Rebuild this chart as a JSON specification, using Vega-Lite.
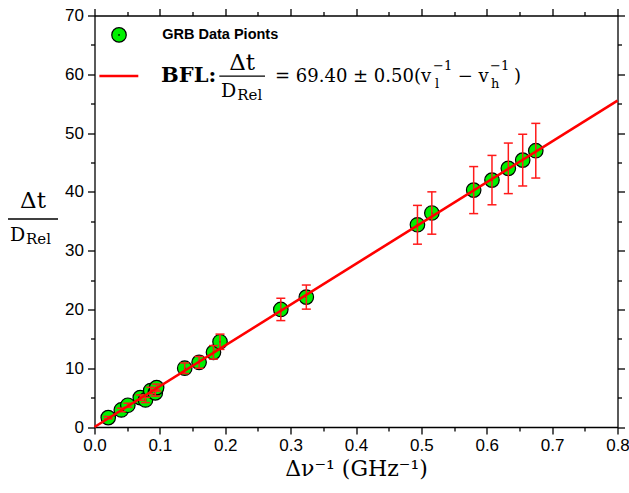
{
  "$schema": "https://vega.github.io/schema/vega-lite/v6.json",
  "autosize": {"type": "none"},
  "padding": {"left": 94.5, "top": 15.5, "right": 11.5, "bottom": 66},
  "width": 523,
  "height": 411.5,
  "background": "white",
  "config": {
    "view": {"stroke": null},
    "axis": {"grid": false, "labelFlush": false, "labelOverlap": false, "domainColor": "black", "domainWidth": 1.3, "tickColor": "black", "tickWidth": 1.3, "labelColor": "black", "labelFont": "Liberation Sans", "labelFontSize": 17}
  },
  "datasets": {
    "pts": [
      {"x": 0.021, "y": 1.6, "lo": 1.4, "hi": 1.8},
      {"x": 0.041, "y": 2.9, "lo": 2.6, "hi": 3.2},
      {"x": 0.051, "y": 3.7, "lo": 3.35, "hi": 4.05},
      {"x": 0.070, "y": 5.0, "lo": 4.55, "hi": 5.45},
      {"x": 0.078, "y": 4.6, "lo": 4.15, "hi": 5.05},
      {"x": 0.086, "y": 6.2, "lo": 5.65, "hi": 6.75},
      {"x": 0.093, "y": 5.8, "lo": 5.25, "hi": 6.35},
      {"x": 0.095, "y": 6.7, "lo": 6.1, "hi": 7.3},
      {"x": 0.138, "y": 10.0, "lo": 9.1, "hi": 10.9},
      {"x": 0.160, "y": 11.0, "lo": 10.0, "hi": 12.0},
      {"x": 0.182, "y": 12.7, "lo": 11.55, "hi": 13.85},
      {"x": 0.192, "y": 14.5, "lo": 13.2, "hi": 15.8},
      {"x": 0.285, "y": 20.0, "lo": 18.1, "hi": 21.9},
      {"x": 0.324, "y": 22.1, "lo": 20.05, "hi": 24.15},
      {"x": 0.494, "y": 34.4, "lo": 31.1, "hi": 37.7},
      {"x": 0.516, "y": 36.4, "lo": 32.8, "hi": 40.0},
      {"x": 0.580, "y": 40.3, "lo": 36.3, "hi": 44.3},
      {"x": 0.608, "y": 42.0, "lo": 37.8, "hi": 46.2},
      {"x": 0.633, "y": 44.0, "lo": 39.7, "hi": 48.3},
      {"x": 0.655, "y": 45.4, "lo": 41.0, "hi": 49.8},
      {"x": 0.675, "y": 47.0, "lo": 42.35, "hi": 51.65}
    ],
    "fit": [{"x": 0, "y": 0}, {"x": 0.8, "y": 55.52}]
  },
  "layer": [
    {
      "data": {"name": "pts"},
      "mark": {"type": "circle", "size": 210, "color": "#00f000", "opacity": 1, "stroke": "black", "strokeWidth": 1.2},
      "encoding": {
        "x": {"field": "x", "type": "quantitative", "scale": {"domain": [0, 0.8], "nice": false},
          "axis": {"orient": "bottom", "values": [0,0.05,0.1,0.15,0.2,0.25,0.3,0.35,0.4,0.45,0.5,0.55,0.6,0.65,0.7,0.75,0.8],
            "labelExpr": "abs(datum.value*10 - round(datum.value*10)) < 0.001 ? format(datum.value, '.1f') : ''",
            "tickSize": {"condition": {"test": "abs(datum.value*10 - round(datum.value*10)) < 0.001", "value": 7}, "value": 4},
            "labelPadding": 3,
            "title": "Δν⁻¹   (GHz⁻¹)", "titleFont": "DejaVu Serif", "titleFontSize": 22, "titleFontWeight": "normal", "titleColor": "black", "titlePadding": 5}},
        "y": {"field": "y", "type": "quantitative", "scale": {"domain": [0, 70], "nice": false},
          "axis": {"orient": "left", "values": [0,5,10,15,20,25,30,35,40,45,50,55,60,65,70],
            "labelExpr": "datum.value % 10 === 0 ? datum.label : ''",
            "tickSize": {"condition": {"test": "datum.value % 10 === 0", "value": 7}, "value": 4},
            "labelPadding": 4, "title": null}}
      }
    },
    {
      "data": {"name": "pts"},
      "mark": {"type": "circle", "size": 3, "color": "black", "opacity": 1},
      "encoding": {
        "x": {"field": "x", "type": "quantitative", "axis": null},
        "y": {"field": "y", "type": "quantitative", "axis": null}
      }
    },
    {
      "data": {"name": "pts"},
      "mark": {"type": "errorbar", "ticks": {"color": "#ff1a1a", "opacity": 1}, "rule": {"color": "#ff1a1a", "opacity": 1}, "color": "#ff1a1a", "opacity": 1, "thickness": 1.5, "size": 9},
      "encoding": {
        "x": {"field": "x", "type": "quantitative", "axis": null},
        "y": {"field": "lo", "type": "quantitative", "axis": null},
        "y2": {"field": "hi"}
      }
    },
    {
      "data": {"name": "fit"},
      "mark": {"type": "line", "color": "#ff0000", "strokeWidth": 2.6},
      "encoding": {
        "x": {"field": "x", "type": "quantitative",
          "axis": {"orient": "top", "labels": false, "title": null, "values": [0,0.05,0.1,0.15,0.2,0.25,0.3,0.35,0.4,0.45,0.5,0.55,0.6,0.65,0.7,0.75,0.8],
            "tickSize": {"condition": {"test": "abs(datum.value*10 - round(datum.value*10)) < 0.001", "value": 7}, "value": 4}}},
        "y": {"field": "y", "type": "quantitative",
          "axis": {"orient": "right", "labels": false, "title": null, "values": [0,5,10,15,20,25,30,35,40,45,50,55,60,65,70],
            "tickSize": {"condition": {"test": "datum.value % 10 === 0", "value": 7}, "value": 4}}}
      }
    },
    {
      "data": {"values": [{}]},
      "mark": {"type": "circle", "size": 210, "color": "#00f000", "opacity": 1, "stroke": "black", "strokeWidth": 1.2},
      "encoding": {"x": {"datum": 0.0375, "type": "quantitative", "axis": null}, "y": {"datum": 66.7, "type": "quantitative", "axis": null}}
    },
    {
      "data": {"values": [{}]},
      "mark": {"type": "circle", "size": 3, "color": "black", "opacity": 1},
      "encoding": {"x": {"datum": 0.0375, "type": "quantitative", "axis": null}, "y": {"datum": 66.7, "type": "quantitative", "axis": null}}
    },
    {
      "data": {"values": [{}]},
      "mark": {"type": "text", "text": "GRB Data Pionts", "align": "left", "baseline": "middle", "font": "Liberation Sans", "fontWeight": "bold", "fontSize": 14.5, "color": "black"},
      "encoding": {"x": {"datum": 0.1036, "type": "quantitative", "axis": null}, "y": {"datum": 66.7, "type": "quantitative", "axis": null}}
    },
    {
      "data": {"values": [{}]},
      "mark": {"type": "rule", "color": "#ff0000", "strokeWidth": 2.6},
      "encoding": {"x": {"datum": 0.0075, "type": "quantitative", "axis": null}, "x2": {"datum": 0.067}, "y": {"datum": 59.7, "type": "quantitative", "axis": null}}
    },
    {
      "data": {"values": [{}]},
      "mark": {"type": "text", "text": "BFL:", "align": "left", "baseline": "alphabetic", "font": "DejaVu Serif", "fontWeight": "bold", "fontSize": 21, "color": "black"},
      "encoding": {"x": {"datum": 0.1017, "type": "quantitative", "axis": null}, "y": {"datum": 58.73, "type": "quantitative", "axis": null}}
    },
    {
      "data": {"values": [{}]},
      "mark": {"type": "text", "text": "Δt", "align": "center", "baseline": "alphabetic", "font": "DejaVu Serif", "fontSize": 23, "color": "black"},
      "encoding": {"x": {"datum": 0.2258, "type": "quantitative", "axis": null}, "y": {"datum": 60.72, "type": "quantitative", "axis": null}}
    },
    {
      "data": {"values": [{}]},
      "mark": {"type": "rule", "color": "black", "strokeWidth": 1.3},
      "encoding": {"x": {"datum": 0.1909, "type": "quantitative", "axis": null}, "x2": {"datum": 0.2608}, "y": {"datum": 59.7, "type": "quantitative", "axis": null}}
    },
    {
      "data": {"values": [{}]},
      "mark": {"type": "text", "text": "D", "align": "left", "baseline": "alphabetic", "font": "DejaVu Serif", "fontSize": 19, "color": "black"},
      "encoding": {"x": {"datum": 0.1935, "type": "quantitative", "axis": null}, "y": {"datum": 56.06, "type": "quantitative", "axis": null}}
    },
    {
      "data": {"values": [{}]},
      "mark": {"type": "text", "text": "Rel", "align": "left", "baseline": "alphabetic", "font": "DejaVu Serif", "fontSize": 15, "color": "black"},
      "encoding": {"x": {"datum": 0.2184, "type": "quantitative", "axis": null}, "y": {"datum": 55.59, "type": "quantitative", "axis": null}}
    },
    {
      "data": {"values": [{}]},
      "mark": {"type": "text", "text": "= 69.40 ± 0.50(v", "align": "left", "baseline": "alphabetic", "font": "DejaVu Serif", "fontSize": 18, "color": "black"},
      "encoding": {"x": {"datum": 0.2761, "type": "quantitative", "axis": null}, "y": {"datum": 58.73, "type": "quantitative", "axis": null}}
    },
    {
      "data": {"values": [{}]},
      "mark": {"type": "text", "text": "−1", "align": "left", "baseline": "alphabetic", "font": "DejaVu Serif", "fontSize": 13, "color": "black"},
      "encoding": {"x": {"datum": 0.5178, "type": "quantitative", "axis": null}, "y": {"datum": 60.72, "type": "quantitative", "axis": null}}
    },
    {
      "data": {"values": [{}]},
      "mark": {"type": "text", "text": "l", "align": "left", "baseline": "alphabetic", "font": "DejaVu Serif", "fontSize": 13, "color": "black"},
      "encoding": {"x": {"datum": 0.5209, "type": "quantitative", "axis": null}, "y": {"datum": 57.66, "type": "quantitative", "axis": null}}
    },
    {
      "data": {"values": [{}]},
      "mark": {"type": "text", "text": "− v", "align": "left", "baseline": "alphabetic", "font": "DejaVu Serif", "fontSize": 18, "color": "black"},
      "encoding": {"x": {"datum": 0.5555, "type": "quantitative", "axis": null}, "y": {"datum": 58.73, "type": "quantitative", "axis": null}}
    },
    {
      "data": {"values": [{}]},
      "mark": {"type": "text", "text": "−1", "align": "left", "baseline": "alphabetic", "font": "DejaVu Serif", "fontSize": 13, "color": "black"},
      "encoding": {"x": {"datum": 0.605, "type": "quantitative", "axis": null}, "y": {"datum": 60.72, "type": "quantitative", "axis": null}}
    },
    {
      "data": {"values": [{}]},
      "mark": {"type": "text", "text": "h", "align": "left", "baseline": "alphabetic", "font": "DejaVu Serif", "fontSize": 13, "color": "black"},
      "encoding": {"x": {"datum": 0.6066, "type": "quantitative", "axis": null}, "y": {"datum": 57.66, "type": "quantitative", "axis": null}}
    },
    {
      "data": {"values": [{}]},
      "mark": {"type": "text", "text": ")", "align": "left", "baseline": "alphabetic", "font": "DejaVu Serif", "fontSize": 18, "color": "black"},
      "encoding": {"x": {"datum": 0.6416, "type": "quantitative", "axis": null}, "y": {"datum": 58.73, "type": "quantitative", "axis": null}}
    },
    {
      "data": {"values": [{}]},
      "mark": {"type": "text", "text": "Δt", "align": "center", "baseline": "alphabetic", "font": "DejaVu Serif", "fontSize": 23, "color": "black"},
      "encoding": {"x": {"datum": -0.0941, "type": "quantitative", "axis": null}, "y": {"datum": 37.2, "type": "quantitative", "axis": null}}
    },
    {
      "data": {"values": [{}]},
      "mark": {"type": "rule", "color": "black", "strokeWidth": 1.3},
      "encoding": {"x": {"datum": -0.1323, "type": "quantitative", "axis": null}, "x2": {"datum": -0.0558}, "y": {"datum": 35.38, "type": "quantitative", "axis": null}}
    },
    {
      "data": {"values": [{}]},
      "mark": {"type": "text", "text": "D", "align": "left", "baseline": "alphabetic", "font": "DejaVu Serif", "fontSize": 19, "color": "black"},
      "encoding": {"x": {"datum": -0.1293, "type": "quantitative", "axis": null}, "y": {"datum": 31.69, "type": "quantitative", "axis": null}}
    },
    {
      "data": {"values": [{}]},
      "mark": {"type": "text", "text": "Rel", "align": "left", "baseline": "alphabetic", "font": "DejaVu Serif", "fontSize": 15, "color": "black"},
      "encoding": {"x": {"datum": -0.1048, "type": "quantitative", "axis": null}, "y": {"datum": 31.21, "type": "quantitative", "axis": null}}
    }
  ],
  "resolve": {"axis": {"x": "independent", "y": "independent"}}
}
